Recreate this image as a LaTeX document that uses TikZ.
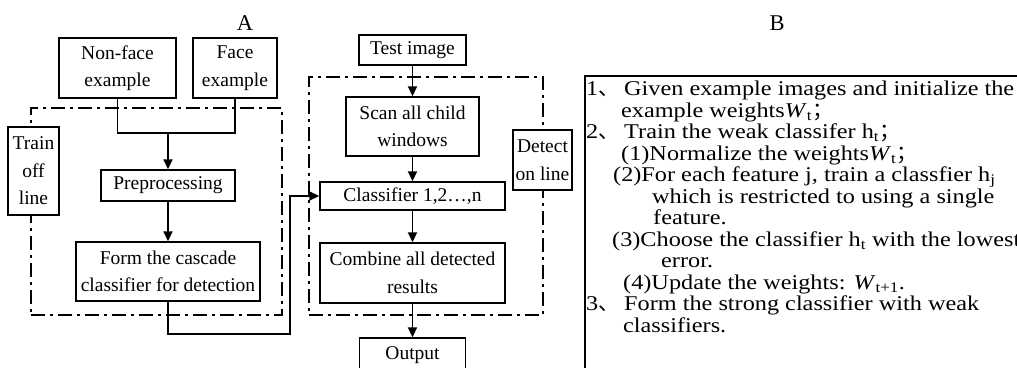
\documentclass[tikz,border=0pt]{standalone}
\usepackage{fontspec}
\setmainfont{Liberation Serif}
\newfontfamily\bfnt[FakeStretch=1.155]{Liberation Serif}
\newfontfamily\cjk{Noto Sans CJK SC}
\usetikzlibrary{arrows.meta}
\newcommand\lfnt{\fontsize{19.5}{27.5}\selectfont}
\newcommand\bsize{\bfnt\fontsize{21}{21}\selectfont}
\newcommand\sbs[1]{\textsubscript{#1}}
\tikzset{
  box/.style={draw, line width=1.4pt, fill=white, inner sep=0pt, align=center, font=\lfnt},
  dashbox/.style={draw, line width=2.2pt, dash pattern=on 14pt off 5pt on 3pt off 5pt, inner sep=0pt},
  conn/.style={line width=1.8pt},
  arr/.style={line width=1.8pt, -{Triangle[length=10pt,width=9pt]}},
  btxt/.style={anchor=base west, inner sep=0pt, font=\bsize},
  lbl/.style={anchor=base, inner sep=0pt, font=\fontsize{22.5}{24}\selectfont},
}
\begin{document}
\begin{tikzpicture}[x=1pt,y=-1pt]
\useasboundingbox (0,0) rectangle (1017,367);
\clip (0,0) rectangle (1017,367);
% labels
\node[lbl] (lA) at (245,30) {A};
\node[lbl] (lB) at (777,30) {B};
% dash-dot frames
\node[dashbox, minimum width=251pt, minimum height=207pt] (train) at (156.5,211.5) {};
\node[dashbox, minimum width=234pt, minimum height=238pt] (detect) at (426,196) {};
% left column
\node[box, minimum width=117pt, minimum height=60pt] (nf) at (117.5,68) {Non-face\\example};
\node[box, minimum width=84pt, minimum height=60pt] (fe) at (235,68) {Face\\example};
\node[box, minimum width=51pt, minimum height=88pt] (tol) at (33.5,171) {Train\\off\\line};
\node[box, minimum width=134pt, minimum height=31pt] (pre) at (168,185.5) {Preprocessing};
\node[box, minimum width=184pt, minimum height=59pt] (form) at (168,271.5) {Form the cascade\\classifier for detection};
% right column
\node[box, minimum width=107pt, minimum height=30pt] (test) at (412.5,50) {Test image};
\node[box, minimum width=133pt, minimum height=59pt] (scan) at (412.5,126.5) {Scan all child\\windows};
\node[box, minimum width=185pt, minimum height=28pt] (cls) at (412.5,196) {Classifier 1,2\ldots,n};
\node[box, minimum width=185pt, minimum height=60pt] (comb) at (412.5,273) {Combine all detected\\results};
\node[box, minimum width=106pt, minimum height=34pt] (out) at (412.5,355) {Output};
\node[box, minimum width=59pt, minimum height=60pt] (dol) at (542.5,160) {Detect\\on line};
% connectors
\coordinate (m) at (168,133);
\draw[conn] (nf.south) |- (m) -| (fe.south);
\draw[arr] (m) -- (pre.north);
\draw[arr] (pre.south) -- (form.north);
\coordinate (k) at (290,334);
\draw[arr] (form.south) |- (k) |- (cls.west);
\draw[arr] (test.south) -- (scan.north);
\draw[arr] (scan.south) -- (cls.north);
\draw[arr] (cls.south) -- (comb.north);
\draw[arr] (comb.south) -- (out.north);
% B frame
\draw[line width=1.5pt] (585,370) -- (585,76) -- (1020,76);
% B text
\node[btxt] (n1) at (586,95.5) {1{\cjk 、}};
\node[btxt] (b1) at (624,95.5) {Given example images and initialize the};
\node[btxt] (b2) at (621,117) {example weights\textit{W}\sbs{t}{\cjk ；}};
\node[btxt] (n2) at (586,138.5) {2{\cjk 、}};
\node[btxt] (b3) at (624,138.5) {Train the weak classifer h\sbs{t}{\cjk ；}};
\node[btxt] (b4) at (621,160) {(1)Normalize the weights\textit{W}\sbs{t}{\cjk ；}};
\node[btxt] (b5) at (613,181.5) {(2)For each feature j, train a classfier h\sbs{j}};
\node[btxt] (b6) at (652,203) {which is restricted to using a single};
\node[btxt] (b7) at (653,224.5) {feature.};
\node[btxt] (b8) at (612,246) {(3)Choose the classifier h\sbs{t} with the lowest};
\node[btxt] (b9) at (661,267.5) {error.};
\node[btxt] (b10) at (623,289) {(4)Update the weights: \textit{W}\sbs{t+1}.};
\node[btxt] (n3) at (586,310.5) {3{\cjk 、}};
\node[btxt] (b11) at (624,310.5) {Form the strong classifier with weak};
\node[btxt] (b12) at (623,332) {classifiers.};
\end{tikzpicture}
\end{document}
